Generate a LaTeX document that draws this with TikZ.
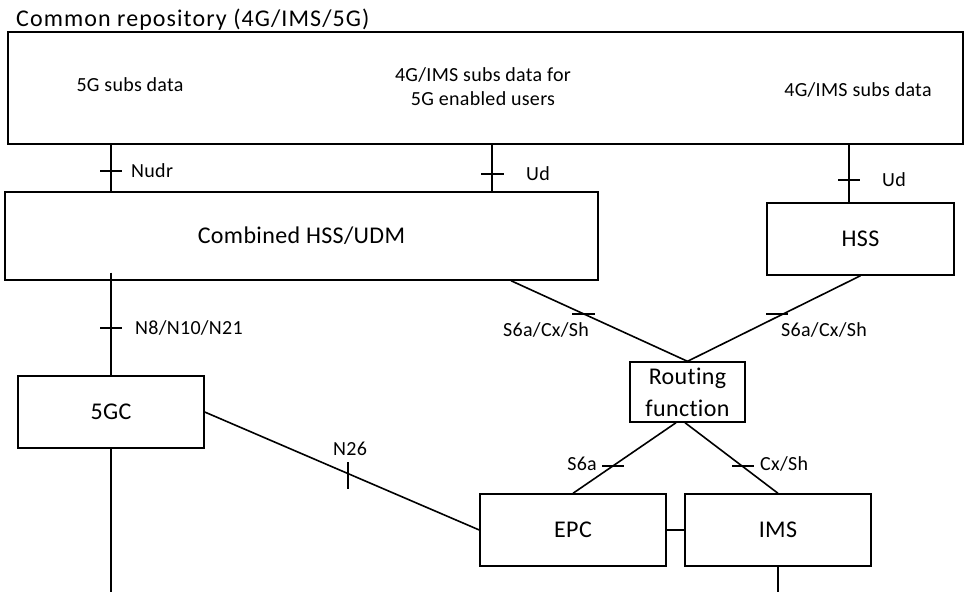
\documentclass[tikz,border=0pt]{standalone}
\usepackage{fontspec}
\setmainfont{Carlito}
\newfontfamily\sptitle[LetterSpace=4.5,Ligatures=NoCommon]{Carlito}
\newfontfamily\splab[LetterSpace=1.5,Ligatures=NoCommon]{Carlito}
\begin{document}
\begin{tikzpicture}[x=1pt,y=-1pt,
  box/.style={draw,rectangle,line width=1.4pt,inner sep=0pt,font=\splab\fontsize{24}{32}\selectfont},
  conn/.style={line width=1.6pt},
  tick/.style={line width=1.6pt},
  iflab/.style={inner sep=0pt,font=\splab\fontsize{20}{24}\selectfont},
  repolab/.style={inner sep=0pt,font=\splab\fontsize{20}{24}\selectfont},
  titlelab/.style={inner sep=0pt,font=\sptitle\fontsize{24}{28}\selectfont}]
\useasboundingbox (0,0) rectangle (966,592);
% boxes
\node[box,minimum width=955pt,minimum height=112pt] (repo) at (485.5,88) {};
\node[box,minimum width=593pt,minimum height=88pt] (comb) at (301.5,236) {Combined HSS/UDM};
\node[box,minimum width=187pt,minimum height=72pt] (hss) at (860.5,239) {HSS};
\node[box,minimum width=115pt,minimum height=60pt,align=center] (rf) at (687.5,392) {Routing\\function};
\node[box,minimum width=186pt,minimum height=72pt] (fgc) at (111,412) {5GC};
\node[box,minimum width=186pt,minimum height=72pt] (epc) at (573,530) {EPC};
\node[box,minimum width=186pt,minimum height=72pt] (ims) at (778,530) {IMS};
% texts
\node[titlelab,anchor=base west] (title) at (16,26) {Common repository (4G/IMS/5G)};
\node[repolab,anchor=base] (t5g) at (130,91) {5G subs data};
\node[repolab,anchor=base] (t4g5g) at (483,81) {4G/IMS subs data for};
\node[repolab,anchor=base] (t4g5gb) at (483,105) {5G enabled users};
\node[repolab,anchor=base] (t4g) at (858,96) {4G/IMS subs data};
% helper coordinates
\coordinate (xa) at (111,0);
\coordinate (xb) at (492,0);
\coordinate (xc) at (849,0);
\coordinate (xd) at (511,0);
\coordinate (xe) at (676,0);
\coordinate (xf) at (685,0);
\coordinate (bot) at (0,592);
% connectors
\draw[conn] (repo.south -| xa) -- (comb.north -| xa);
\draw[conn] (repo.south -| xb) -- (comb.north -| xb);
\draw[conn] (repo.south -| xc) -- (hss.north -| xc);
\draw[conn] ([yshift=8pt]comb.south -| xa) -- (fgc.north);
\draw[conn] (fgc.south) -- (fgc.south |- bot);
\draw[conn] (ims.south) -- (ims.south |- bot);
\draw[conn] (comb.south -| xd) -- (rf.north);
\draw[conn] (hss.south) -- (rf.north);
\draw[conn] (rf.south -| xe) -- (epc.north);
\draw[conn] (rf.south -| xf) -- (ims.north);
\draw[conn] (fgc.east) -- (epc.west);
\draw[conn] (epc.east) -- (ims.west);
% ticks
\draw[tick] (100,171) -- (122,171);
\draw[tick] (481,174) -- (504,174);
\draw[tick] (838,180) -- (860,180);
\draw[tick] (100,328) -- (122,328);
\draw[tick] (572,314) -- (595,314);
\draw[tick] (766,314) -- (788,314);
\draw[tick] (602,466) -- (624,466);
\draw[tick] (732,466) -- (754,466);
\draw[tick] (348,462) -- (348,489);
% interface labels
\node[iflab,anchor=base west] (lnudr) at (131,177) {Nudr};
\node[iflab,anchor=base west] (lud1) at (526,180) {Ud};
\node[iflab,anchor=base west] (lud2) at (882,186) {Ud};
\node[iflab,anchor=base west] (ln8) at (135,334) {N8/N10/N21};
\node[iflab,anchor=base west] (ln26) at (333,455) {N26};
\node[iflab,anchor=base west] (ls1) at (503,336) {S6a/Cx/Sh};
\node[iflab,anchor=base west] (ls2) at (781,336) {S6a/Cx/Sh};
\node[iflab,anchor=base east] (ls6a) at (597,470) {S6a};
\node[iflab,anchor=base west] (lcx) at (760,470) {Cx/Sh};
\end{tikzpicture}
\end{document}
